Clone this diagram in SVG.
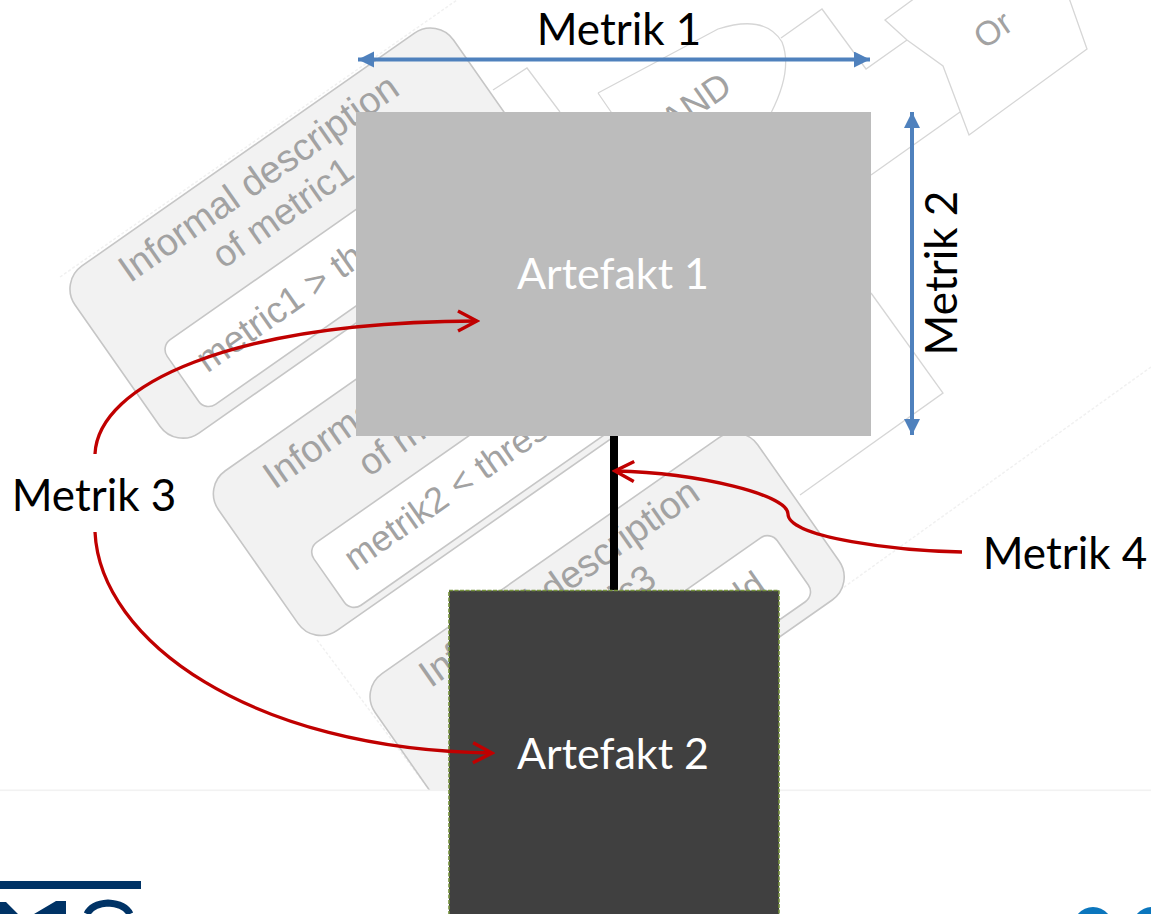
<svg xmlns="http://www.w3.org/2000/svg" width="1151" height="914" viewBox="0 0 1151 914">
<style>
.card{fill:#f2f2f2;stroke:#c6c6c6;stroke-width:1.6}
.inner{fill:#fff;stroke:#c6c6c6;stroke-width:1.6}
.bt{font-family:"Liberation Sans",Arial,sans-serif;fill:#a2a2a2}
.ln{fill:none;stroke:#d6d6d6;stroke-width:1.3}
.faint{fill:none;stroke:#f1f1f1;stroke-width:1.5;stroke-dasharray:3 2}
.lbl{font-family:Lato,"Open Sans",sans-serif;font-size:44px;fill:#000}
.art{font-family:Lato,"Open Sans",sans-serif;font-size:43px;fill:#fff}
.blue{fill:none;stroke:#4f81bd;stroke-width:4}
.red{fill:none;stroke:#c00000;stroke-width:3.3}
</style>
<defs>
<clipPath id="bgclip"><rect x="0" y="0" width="1151" height="790"/></clipPath>
<marker id="bh" markerUnits="userSpaceOnUse" markerWidth="18" markerHeight="18" refX="16" refY="8" orient="auto-start-reverse"><path d="M0,0L16,8L0,16z" fill="#4f81bd"/></marker>
<marker id="rh" markerUnits="userSpaceOnUse" markerWidth="24" markerHeight="26" refX="21" refY="12" orient="auto"><path d="M2,2L21,12L2,22" fill="none" stroke="#c00000" stroke-width="3.4"/></marker>
</defs>
<rect width="1151" height="914" fill="#fff"/>
<g id="background" clip-path="url(#bgclip)">
<path class="faint" d="M60,277L457,0M1151,367L840,590M317,640L427,787"/>
<path class="ln" d="M493,90L527,68L560,112M781,38L822,9L866,69L907,40"/>
<path class="ln" d="M598,93L718,29Q765,14 782,42Q793,70 771,113M598,93L620,125"/>
<path class="ln" d="M885,20L915,-2L1069,-2L1087,49L969,135L943,66L907,40z"/>
<path class="ln" d="M960,112L871,175M871,293L943,393L800,495"/>
<text class="bt" font-size="34" transform="translate(984,50) rotate(-35)">Or</text>
<text class="bt" font-size="36" text-anchor="end" transform="translate(734,91) rotate(-35)">AND</text>
<g transform="translate(59,282) rotate(-35)">
<rect class="card" x="0" y="0" width="462" height="204" rx="28"/>
<rect class="inner" x="46" y="111" width="380" height="79" rx="12"/>
<text class="bt" font-size="38" x="223" y="42" text-anchor="middle">Informal description</text>
<text class="bt" font-size="37" x="223" y="84" text-anchor="middle">of metric1</text>
<text class="bt" font-size="37" x="69" y="160">metric1 &gt; threshold</text>
<rect class="card" x="0" y="250" width="462" height="195" rx="28"/>
<rect class="inner" x="50" y="361" width="380" height="77" rx="12"/>
<text class="bt" font-size="38" x="223" y="294" text-anchor="middle">Informal description</text>
<text class="bt" font-size="37" x="223" y="338" text-anchor="middle">of metric2</text>
<text class="bt" font-size="36" x="76" y="407">metrik2 &lt; threshold</text>
<rect class="card" x="12" y="506" width="467" height="198" rx="28"/>
<rect class="inner" x="60" y="612" width="380" height="78" rx="12"/>
<text class="bt" font-size="38" x="237" y="546" text-anchor="middle">Informal description</text>
<text class="bt" font-size="37" x="237" y="591" text-anchor="middle">of metric3</text>
<text class="bt" font-size="36" x="404" y="659" text-anchor="end">metric3 &gt; threshold</text>
</g>
</g>
<rect id="footer-line" x="0" y="789.5" width="1151" height="1.6" fill="#f2f2f2"/>
<g id="logo-left">
<rect x="0" y="881" width="141" height="8" fill="#003366"/>
<path d="M0,902L6,902L18,914L0,914zM34,914L56,901L66,901L66,914z" fill="#003366"/>
<path d="M87,914Q92,904 108,903Q125,904 130,914" fill="none" stroke="#003366" stroke-width="7"/>
</g>
<g id="logo-right">
<ellipse cx="1093" cy="930" rx="21" ry="23" fill="#0b76bd"/>
<ellipse cx="1152" cy="930" rx="21" ry="23" fill="#0b76bd"/>
</g>
<g id="connectors">
<line x1="614" y1="436" x2="614" y2="590" stroke="#000" stroke-width="8"/>
<line class="blue" x1="358" y1="59.5" x2="870" y2="59.5" marker-start="url(#bh)" marker-end="url(#bh)"/>
<line class="blue" x1="912" y1="112" x2="912" y2="435" marker-start="url(#bh)" marker-end="url(#bh)"/>
</g>
<g id="artefakt-1">
<rect x="356" y="112" width="515" height="324" fill="#bcbcbc"/>
<text class="art" x="613" y="289" text-anchor="middle">Artefakt 1</text>
</g>
<g id="artefakt-2">
<rect x="449" y="590.5" width="330" height="330" fill="#404040" stroke="#76923c" stroke-width="1.6" stroke-dasharray="4 1.5"/>
<text class="art" x="613" y="769" text-anchor="middle">Artefakt 2</text>
</g>
<g id="red-connectors">
<path class="red" marker-end="url(#rh)" d="M95,454C98,385 230,322 477,321"/>
<path class="red" marker-end="url(#rh)" d="M95,532C100,640 250,750 492,753"/>
<path class="red" marker-end="url(#rh)" d="M962,552C900,551 788,538 788,514C788,495 700,473 615,471"/>
</g>
<g id="labels">
<text class="lbl" x="619" y="45" text-anchor="middle">Metrik 1</text>
<text class="lbl" transform="translate(957,273) rotate(-90)" text-anchor="middle">Metrik 2</text>
<text class="lbl" x="94" y="511" text-anchor="middle">Metrik 3</text>
<text class="lbl" x="1065" y="569" text-anchor="middle">Metrik 4</text>
</g>
</svg>
